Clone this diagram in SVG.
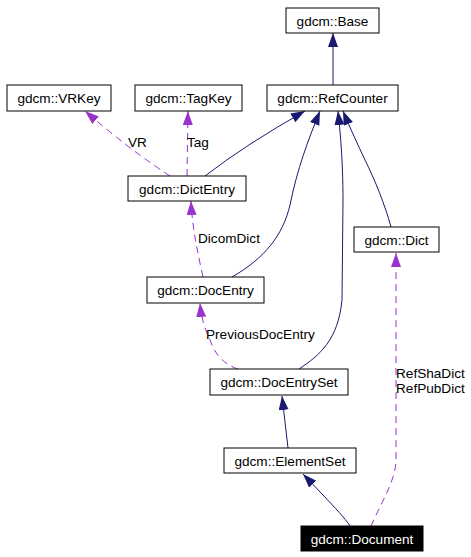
<svg xmlns="http://www.w3.org/2000/svg" width="471" height="557" viewBox="0 0 471 557">
<defs>
<style>
.n rect{fill:#fff;stroke:#000;stroke-width:1}
.n text{font-family:"Liberation Sans",Arial,sans-serif;font-size:13.6px;text-anchor:middle;fill:#000}
.n.hl rect{fill:#000}
.n.hl text{fill:#fff}
.e path{fill:none;stroke-width:1}
.inh{stroke:#191970;marker-end:url(#ab)}
.use{stroke:#9a32cd;stroke-dasharray:7,5;marker-end:url(#ap)}
.lbl{font-family:"Liberation Sans",Arial,sans-serif;font-size:13.6px;fill:#000}
</style>
<marker id="ab" markerUnits="userSpaceOnUse" markerWidth="15" markerHeight="11" refX="14" refY="5" orient="auto"><path d="M0,0 L14,5 L0,10 z" fill="#191970"/></marker>
<marker id="ap" markerUnits="userSpaceOnUse" markerWidth="15" markerHeight="11" refX="14" refY="5" orient="auto"><path d="M0,0 L14,5 L0,10 z" fill="#9a32cd"/></marker>
</defs>
<rect width="471" height="557" fill="#fff"/>
<g id="edges" class="e">
<path class="inh" d="M333,85 L333,33"/>
<path class="inh" d="M205,176 Q245,145 305,111"/>
<path class="inh" d="M232,277 C265,258 283,235 290,205 C297,170 308,140 320,111"/>
<path class="inh" d="M299,369 C320,355 338,340 342,300 L343,200 C343,160 340,130 338,111"/>
<path class="inh" d="M391,227 C385,205 375,180 365,160 C358,145 350,128 343,111"/>
<path class="inh" d="M288,448 L282,396"/>
<path class="inh" d="M350,526 C345,518 335,508 323,495 L303,474"/>
<path class="use" d="M170,176 Q130,150 85,111"/>
<path class="use" d="M187,176 L188,111"/>
<path class="use" d="M203,277 C197,250 192,225 191,201"/>
<path class="use" d="M238,369 C225,365 215,355 210,340 C203,325 201,315 200,303"/>
<path class="use" d="M371,526 C380,505 396,480 396,460 L396,253"/>
<text class="lbl" x="128" y="147">VR</text>
<text class="lbl" x="187" y="147">Tag</text>
<text class="lbl" x="198" y="243">DicomDict</text>
<text class="lbl" x="206" y="339">PreviousDocEntry</text>
<text class="lbl" x="396" y="378">RefShaDict</text>
<text class="lbl" x="396" y="393">RefPubDict</text>
</g>
<g id="Base" class="n"><rect x="286" y="8" width="93" height="25"/><text x="332.5" y="25.5">gdcm::Base</text></g>
<g id="RefCounter" class="n"><rect x="267" y="85" width="131" height="26"/><text x="332.5" y="103">gdcm::RefCounter</text></g>
<g id="VRKey" class="n"><rect x="7" y="85" width="104" height="26"/><text x="59" y="103">gdcm::VRKey</text></g>
<g id="TagKey" class="n"><rect x="135" y="85" width="107" height="26"/><text x="188.5" y="103">gdcm::TagKey</text></g>
<g id="DictEntry" class="n"><rect x="128" y="176" width="118" height="25"/><text x="187" y="194">gdcm::DictEntry</text></g>
<g id="Dict" class="n"><rect x="354" y="227" width="85" height="25"/><text x="396.5" y="245">gdcm::Dict</text></g>
<g id="DocEntry" class="n"><rect x="147" y="277" width="117" height="26"/><text x="205.5" y="295">gdcm::DocEntry</text></g>
<g id="DocEntrySet" class="n"><rect x="210" y="369" width="138" height="26"/><text x="279" y="387">gdcm::DocEntrySet</text></g>
<g id="ElementSet" class="n"><rect x="224" y="448" width="132" height="25"/><text x="290" y="466">gdcm::ElementSet</text></g>
<g id="Document" class="n hl"><rect x="301" y="526" width="122" height="25"/><text x="362" y="544">gdcm::Document</text></g>
</svg>
